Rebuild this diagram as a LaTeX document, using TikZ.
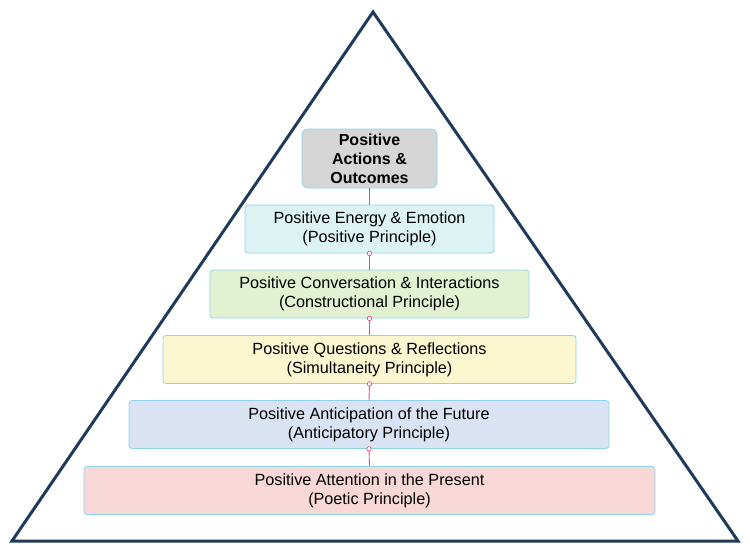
\documentclass[tikz,border=0pt]{standalone}
\usepackage{fontspec}
\setmainfont{Liberation Sans}
\usepackage{tikz}
\definecolor{navy}{HTML}{1F3A5A}
\definecolor{edgeblue}{HTML}{8ED3EA}
\definecolor{pinkline}{HTML}{E0507F}
\definecolor{grayfill}{HTML}{D6D6D6}
\definecolor{cyanfill}{HTML}{DDF2F2}
\definecolor{greenfill}{HTML}{E3F1D3}
\definecolor{yellowfill}{HTML}{FAF6D0}
\definecolor{bluefill}{HTML}{DAE3F3}
\definecolor{redfill}{HTML}{F8D8D6}
\tikzset{
  level/.style={draw=edgeblue, line width=0.8pt, rounded corners=3pt, align=center,
    inner sep=0pt, minimum height=48pt, font=\fontsize{16.2}{19}\selectfont},
  link/.style={draw=pinkline, line width=0.9pt},
  dot/.style={circle, draw=pinkline, fill=white, line width=0.7pt, inner sep=0pt, minimum size=4.5pt}
}
\begin{document}
\begin{tikzpicture}[x=1pt,y=-1pt]
\useasboundingbox (0,0) rectangle (750,552);
%draw triangle
\draw[navy, line width=3pt, line join=miter] (373,12) -- (738,541) -- (12,541) -- cycle;

%draw levels
\node[level, fill=grayfill, minimum width=135pt, minimum height=59pt, font=\fontsize{16}{19}\selectfont\bfseries, rounded corners=6pt] (actions) at (369.5,158.5) {Positive\\Actions \&\\Outcomes};
\node[level, fill=cyanfill, minimum width=249pt] (energy) at (369.5,229) {Positive Energy \& Emotion\\(Positive Principle)};
\node[level, fill=greenfill, minimum width=319pt] (conversation) at (369.5,294) {Positive Conversation \& Interactions\\(Constructional Principle)};
\node[level, fill=yellowfill, minimum width=413pt] (questions) at (369.5,359.5) {Positive Questions \& Reflections\\(Simultaneity Principle)};
\node[level, fill=bluefill, minimum width=480pt] (anticipation) at (369,424.5) {Positive Anticipation of the Future\\(Anticipatory Principle)};
\node[level, fill=redfill, minimum width=571pt] (attention) at (369.5,490.5) {Positive Attention in the Present\\(Poetic Principle)};

%draw links
\draw[link] (actions.south) -- (energy.north);
\foreach \a/\b in {energy/conversation,conversation/questions,questions/anticipation,anticipation/attention}
  \draw[link] (\a.south) -- (\b.north) node[dot, at start] {};
\end{tikzpicture}
\end{document}
